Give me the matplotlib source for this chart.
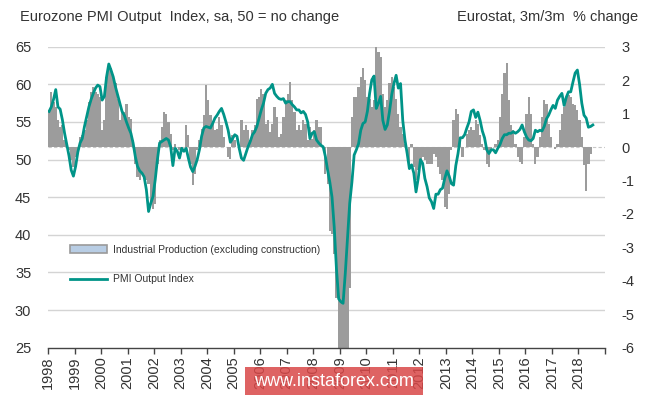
import numpy as np
import matplotlib
matplotlib.use("Agg")
import matplotlib.pyplot as plt
from matplotlib.patches import Rectangle, Patch
from matplotlib.lines import Line2D

plt.rcParams["font.family"] = ["Liberation Sans", "DejaVu Sans"]

# -----------------------------------------------------
# DATA (monthly, from Jan 1998)
# -----------------------------------------------------
pmi = [
    56.4, 57.0, 58.0, 59.3, 57.0, 56.7, 55.3, 53.5, 52.0, 50.5, 48.6, 47.8,  # 1998
    49.1, 51.0, 52.2, 52.8, 54.4, 55.7, 57.0, 58.0, 58.8, 59.5, 59.9, 59.7,  # 1999
    57.9, 58.4, 61.0, 62.7, 61.9, 61.0, 59.7, 58.6, 57.5, 56.4, 55.9, 55.0,  # 2000
    54.2, 53.5, 52.2, 50.4, 49.1, 48.5, 48.2, 47.7, 46.0, 43.1, 44.2, 45.1,  # 2001
    47.3, 50.0, 52.2, 52.4, 52.6, 52.8, 52.6, 51.7, 49.2, 51.5, 51.1, 50.2,  # 2002
    51.5, 51.1, 51.5, 50.2, 49.0, 48.4, 49.1, 50.0, 51.3, 53.1, 54.2, 54.4,  # 2003
    54.3, 54.2, 54.8, 55.5, 55.9, 56.4, 56.8, 56.0, 55.0, 53.9, 52.3, 52.8,  # 2004
    53.3, 53.1, 51.5, 50.2, 49.9, 50.8, 51.7, 52.4, 53.3, 53.7, 54.4, 55.5,  # 2005
    56.6, 57.5, 58.8, 59.3, 59.5, 60.0, 58.8, 58.4, 58.1, 58.0, 58.1, 57.5,  # 2006
    57.7, 57.7, 57.3, 57.0, 56.6, 56.6, 56.2, 56.4, 56.0, 55.0, 52.8, 53.5,  # 2007
    53.7, 52.6, 52.2, 51.9, 51.7, 50.4, 48.6, 47.0, 45.0, 41.0, 35.5, 31.5,  # 2008
    31.1, 30.9, 34.9, 39.5, 44.2, 47.0, 50.6, 51.3, 52.1, 53.9, 54.8, 55.0,  # 2009
    56.4, 58.8, 60.6, 61.1, 56.8, 57.5, 58.4, 55.2, 54.0, 54.6, 56.4, 58.6,  # 2010
    60.1, 61.2, 59.5, 60.1, 55.2, 52.6, 50.8, 48.8, 49.3, 48.2, 45.7, 47.5,  # 2011
    50.0, 49.5, 47.5, 46.4, 44.9, 44.4, 43.5, 45.4, 45.4, 46.0, 46.2, 47.5,  # 2012
    48.5, 47.8, 46.8, 46.6, 49.2, 50.8, 52.9, 52.9, 53.3, 54.2, 55.0, 56.4,  # 2013
    56.6, 55.6, 56.3, 55.2, 53.8, 52.9, 51.3, 50.8, 51.3, 51.3, 50.9, 51.5,  # 2014
    52.0, 52.8, 53.3, 53.3, 53.5, 53.5, 53.7, 53.5, 53.7, 54.0, 54.6, 53.7,  # 2015
    53.0, 52.6, 52.5, 52.8, 53.9, 53.7, 53.9, 53.8, 54.4, 55.4, 55.9, 56.6,  # 2016
    57.2, 56.8, 57.9, 58.4, 58.8, 57.2, 58.3, 59.0, 59.0, 60.3, 61.5, 61.9,  # 2017
    60.0, 57.5, 55.9, 55.5, 54.3, 54.4, 54.6,                                # 2018
]

ip = [
    1.1, 1.65, 1.35, 1.2, 0.8, 0.6, 0.65, 0.2, 0.05, -0.1, -0.4, -0.6,       # 1998
    -0.3, -0.1, 0.3, 0.35, 0.5, 0.8, 1.35, 1.65, 1.8, 1.65, 1.6, 1.5,        # 1999
    0.5, 0.8, 2.1, 2.4, 2.35, 2.05, 1.9, 1.45, 0.8, 1.1, 1.05, 1.3,          # 2000
    0.9, 0.85, 0.2, -0.5, -0.9, -1.0, -0.8, -0.9, -1.0, -1.1, -1.7, -1.85,   # 2001
    -1.7, -0.5, 0.2, 0.6, 1.05, 1.0, 0.75, 0.4, -0.1, 0.1, 0.0, -0.1,        # 2002
    -0.05, 0.0, 0.65, 0.35, -0.5, -1.15, -0.8, -0.1, 0.2, 0.55, 0.95, 1.85,  # 2003
    1.4, 0.95, 0.75, 0.5, 0.55, 0.9, 0.65, 0.3, 0.0, -0.3, -0.35, 0.35,      # 2004
    0.2, 0.0, -0.1, 0.8, 0.5, 0.65, 0.5, 0.2, 0.5, 0.65, 1.45, 1.5,          # 2005
    1.75, 1.6, 0.7, 0.8, 0.45, 0.7, 1.2, 0.9, 0.3, 0.4, 0.9, 1.4,            # 2006
    1.6, 1.95, 1.4, 1.05, 0.5, 0.65, 0.5, 0.8, 0.7, 0.2, 0.6, 0.25,          # 2007
    0.5, 0.8, 0.6, 0.6, 0.0, -0.8, -1.1, -2.5, -2.6, -3.2, -4.5, -6.0,       # 2008
    -6.0, -6.0, -6.0, -6.0, -4.2, 0.9, 1.5, 1.5, 1.8, 2.1, 2.35, 2.0,        # 2009
    1.5, 1.45, 1.2, 1.4, 3.0, 2.85, 2.7, 1.6, 1.2, 1.4, 1.9, 2.1,            # 2010
    1.8, 1.45, 1.0, 0.6, 0.4, 0.1, 0.0, -0.5, 0.1, -0.6, -1.0, -0.7,         # 2011
    -0.4, -0.3, -0.4, -0.5, -0.5, -0.5, -0.2, -0.3, -0.6, -0.8, -1.0, -1.8,  # 2012
    -1.85, -1.4, -0.1, 0.8, 1.15, 1.0, 0.2, -0.3, 0.0, 0.4, 0.5, 0.6,        # 2013
    0.5, 0.8, 0.7, 0.35, 0.1, -0.1, -0.5, -0.6, -0.1, 0.0, 0.1, 0.2,         # 2014
    0.9, 1.6, 2.2, 2.5, 1.4, 0.65, 0.5, 0.1, -0.3, -0.45, -0.5, 0.3,         # 2015
    1.0, 1.5, 1.0, 0.1, -0.5, -0.3, 0.3, 0.9, 1.4, 1.3, 0.7, 0.3,            # 2016
    0.0, -0.05, 0.1, 0.5, 1.0, 1.2, 1.4, 1.55, 1.5, 1.3, 1.25, 1.1,          # 2017
    0.8, 0.3, -0.55, -1.3, -0.5, -0.2,                                       # 2018
]

years = list(range(1998, 2020))
pmi_ticks = [25, 30, 35, 40, 45, 50, 55, 60, 65]
ip_ticks = [-6, -5, -4, -3, -2, -1, 0, 1, 2, 3]

titre_gauche = "Eurozone PMI Output  Index, sa, 50 = no change"
titre_droite = "Eurostat, 3m/3m  % change"
label_ip = "Industrial Production (excluding construction)"
label_pmi = "PMI Output Index"

# -----------------------------------------------------
# FIGURE
# -----------------------------------------------------
W, H = 665, 398
fig = plt.figure(figsize=(W / 100, H / 100), dpi=100)
ax = fig.add_axes([48 / W, 1 - 347.7 / H, 557 / W, 301 / H])
axl = ax.twinx()

GRIS = "#9c9c9c"
TEAL = "#009488"
TEXTE = "#333333"

# bars on the right-hand scale
x_bar = 1998 + np.arange(len(ip)) / 12
ax.bar(x_bar, ip, width=1 / 12, align="edge", color=GRIS, linewidth=0, zorder=2)
ax.set_ylim(-6, 3)
ax.set_xlim(1998, 2019)

# gridlines follow the left (PMI) scale
zero_pmi = 65 - 3 * 40 / 9
for p in pmi_ticks[1:]:
    ax.axhline((p - zero_pmi) * 9 / 40, color="#d4d4d4", linewidth=1.0, zorder=1)
ax.axhline(0, color="#c8c8c8", linewidth=0.8, linestyle=(0, (3, 2)), zorder=1)

# PMI line on the left scale
x_line = 1998 + (np.arange(len(pmi)) + 0.5) / 12
axl.plot(x_line, pmi, color=TEAL, linewidth=2.0, solid_joinstyle="round")
axl.set_ylim(25, 65)

# axes styling
ax.yaxis.tick_right()
ax.set_yticks(ip_ticks)
ax.set_yticklabels([str(v) for v in ip_ticks])
ax.tick_params(axis="y", length=0, pad=12, labelsize=10.5, labelcolor=TEXTE)

axl.yaxis.tick_left()
axl.set_yticks(pmi_ticks)
axl.set_yticklabels([str(v) for v in pmi_ticks])
axl.tick_params(axis="y", length=0, pad=12, labelsize=10.5, labelcolor=TEXTE)

ax.set_xticks(years)
ax.set_xticklabels([str(y) if y < 2019 else "" for y in years], rotation=90)
ax.tick_params(axis="x", direction="out", length=4, width=1, color="#444444",
               pad=2, labelsize=10.5, labelcolor=TEXTE)

for a in (ax, axl):
    for s in ("top", "left", "right"):
        a.spines[s].set_visible(False)
axl.spines["bottom"].set_visible(False)
ax.spines["bottom"].set_color("#444444")
ax.spines["bottom"].set_linewidth(1.0)

# legend
handles = [
    Patch(facecolor="#b8cde4", edgecolor="#9a9a9a", linewidth=1.2),
    Line2D([0], [0], color=TEAL, linewidth=2.0),
]
axl.legend(handles, [label_ip, label_pmi], loc="upper left",
           bbox_to_anchor=(0.03, 0.36), frameon=False, fontsize=7.5,
           handlelength=3.6, handleheight=0.7, handletextpad=0.5,
           labelspacing=1.9, borderpad=0, labelcolor=TEXTE)

# titles
fig.text(20 / W, 1 - 17 / H, titre_gauche, ha="left", va="center",
         fontsize=10.5, color=TEXTE)
fig.text(638 / W, 1 - 17 / H, titre_droite, ha="right", va="center",
         fontsize=10.5, color=TEXTE)

# watermark
fig.patches.append(Rectangle((245 / W, 1 - 395 / H), 178 / W, 28 / H,
                             transform=fig.transFigure, facecolor="#d94848",
                             alpha=0.85, edgecolor="none", zorder=5))
fig.text(334 / W, 1 - 381 / H, "www.instaforex.com", ha="center", va="center",
         fontsize=13, color="white", zorder=6)

fig.savefig("out.png", dpi=100)
